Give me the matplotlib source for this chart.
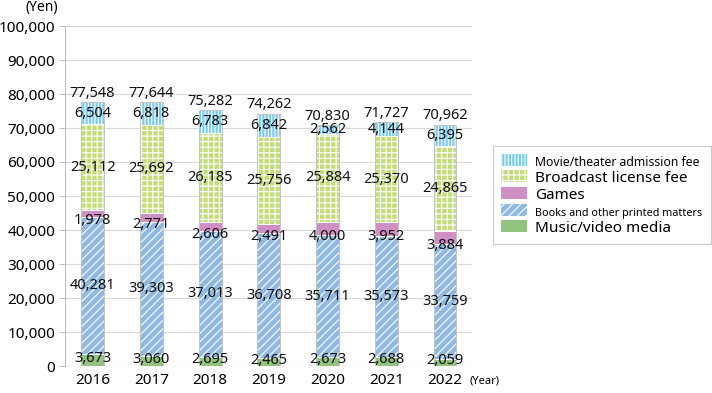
import matplotlib
matplotlib.use("Agg")
import matplotlib.pyplot as plt
import numpy as np
from matplotlib.patches import Patch

years = ["2016", "2017", "2018", "2019", "2020", "2021", "2022"]
music = [3673, 3060, 2695, 2465, 2673, 2688, 2059]
books = [40281, 39303, 37013, 36708, 35711, 35573, 33759]
games = [1978, 2771, 2606, 2491, 4000, 3952, 3884]
broadcast = [25112, 25692, 26185, 25756, 25884, 25370, 24865]
movie = [6504, 6818, 6783, 6842, 2562, 4144, 6395]
totals = [77548, 77644, 75282, 74262, 70830, 71727, 70962]

plt.rcParams["font.family"] = ["Noto Sans", "DejaVu Sans"]
plt.rcParams["hatch.linewidth"] = 0.8

series = [
    ("Music/video media", music, "#93c47d", None),
    ("Books and other printed matters", books, "#8fb8e4", "////"),
    ("Games", games, "#d08fc5", None),
    ("Broadcast license fee", broadcast, "#c4dc7c", "+++"),
    ("Movie/theater admission fee", movie, "#7ccbf0", "|||||"),
]

fig = plt.figure(figsize=(7.12, 3.93), dpi=100)
ax = fig.add_axes([65 / 712, 27 / 393, (472 - 65) / 712, (366 - 26) / 393])

x = np.arange(len(years))
width = 0.39
bottom = np.zeros(len(years))
for name, vals, color, hatch in series:
    vals = np.array(vals, dtype=float)
    ax.bar(x, vals, width, bottom=bottom, color=color, hatch=hatch,
           edgecolor="white", linewidth=0.7, zorder=3)
    for i, v in enumerate(vals):
        yc = bottom[i] + v / 2
        if name == "Games":
            yc -= 2200
        elif name == "Music/video media":
            yc += 500
        ax.text(x[i], yc, f"{int(v):,}", ha="center", va="center",
                fontsize=10.5, color="#111111", zorder=5)
    bottom += vals

# thin grey outline round each stack
ax.bar(x, bottom, width, fill=False, edgecolor="#b8b8b8", linewidth=0.6, zorder=4)

for i, t in enumerate(totals):
    ax.annotate(f"{t:,}", (x[i], bottom[i]), xytext=(0, 1),
                textcoords="offset points", ha="center", va="bottom",
                fontsize=10.5, color="#111111", zorder=5)

ax.set_ylim(0, 100000)
ax.set_xlim(-0.47, 6.46)
ax.set_yticks(np.arange(0, 100001, 10000))
ax.set_yticklabels([f"{v:,}" for v in range(0, 100001, 10000)])
ax.set_xticks(x)
ax.set_xticklabels(years)
ax.tick_params(axis="y", length=4, color="#bfbfbf", labelsize=11, pad=3)
ax.tick_params(axis="x", length=0, labelsize=11, pad=5)
ax.yaxis.grid(True, color="#d9d9d9", linewidth=0.9, zorder=0)
for s in ["top", "right", "bottom"]:
    ax.spines[s].set_visible(False)
ax.spines["left"].set_color("#bfbfbf")

fig.text(25 / 712, 1 - 7 / 393, "(Yen)", ha="left", va="center", fontsize=10)
fig.text(469 / 712, 1 - 381 / 393, "(Year)", ha="left", va="center", fontsize=8)

handles = [Patch(facecolor=c, hatch=h, edgecolor="white", linewidth=0, label=n)
           for n, v, c, h in reversed(series)]
leg = fig.legend(handles=handles, loc="upper left",
                 bbox_to_anchor=(493 / 712, 1 - 146 / 393),
                 frameon=True, fancybox=False, edgecolor="#bfbfbf",
                 handlelength=1.7, handleheight=0.8, handletextpad=0.5,
                 labelspacing=0.12, borderpad=0.55, borderaxespad=0,
                 fontsize=11)
leg.get_frame().set_linewidth(0.8)
sizes = [8.8, 11, 11, 7.8, 11]
for t, s in zip(leg.get_texts(), sizes):
    t.set_fontsize(s)

fig.savefig("out.png", dpi=100)
